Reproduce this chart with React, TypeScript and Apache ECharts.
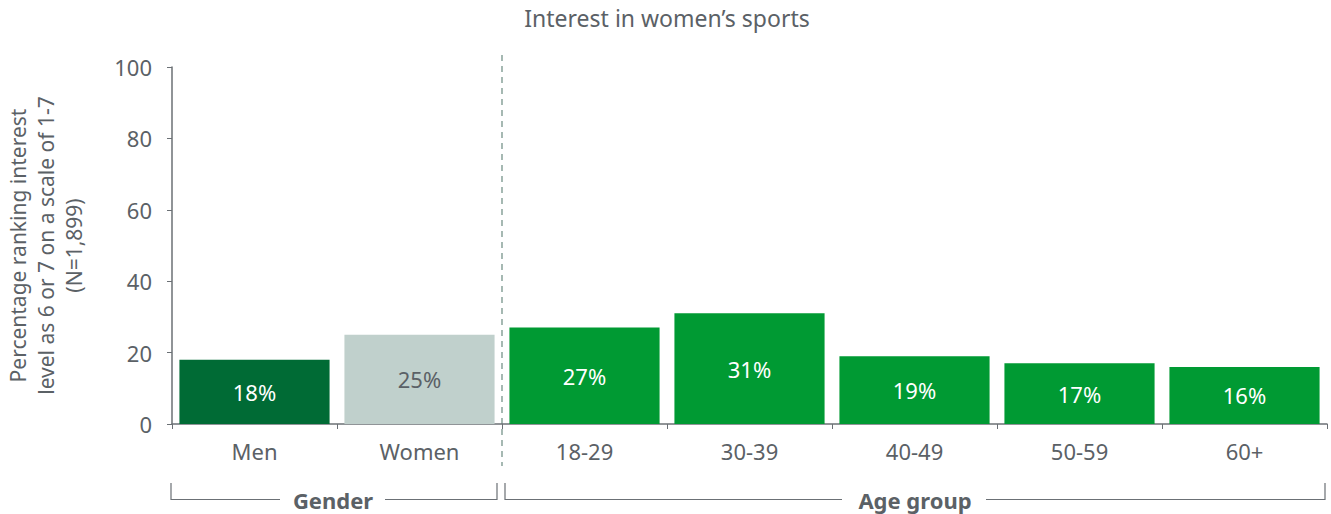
import React, { useEffect, useRef } from "react";
import * as echarts from "echarts";

const categories = ["Men", "Women", "18-29", "30-39", "40-49", "50-59", "60+"];
const values = [18, 25, 27, 31, 19, 17, 16];
const yTicks = [0, 20, 40, 60, 80, 100];
const groupLabels = ["Gender", "Age group"];

const FONT = "Noto Sans";
const TEXT = "#5b6166";
const AXIS = "#6b7075";
const barColors = ["#006b35", "#c0d0cc", "#009a33", "#009a33", "#009a33", "#009a33", "#009a33"];
const labelColors = ["#ffffff", "#5b6166", "#ffffff", "#ffffff", "#ffffff", "#ffffff", "#ffffff"];

export default function App() {
  const ref = useRef<HTMLDivElement>(null);
  useEffect(() => {
    if (!ref.current) return;
    const chart = echarts.init(ref.current, null, { renderer: "svg" });
    const lineStyle = { stroke: AXIS, lineWidth: 1.2, fill: "none" };
    chart.setOption({
      animation: false,
      textStyle: { fontFamily: FONT },
      title: {
        text: "Interest in women\u2019s sports",
        left: 662,
        textAlign: "center",
        top: 1,
        textStyle: { fontFamily: FONT, fontSize: 23, fontWeight: "normal", color: TEXT },
      },
      grid: { left: 172, right: 4, top: 67, bottom: 90, outerBoundsMode: "none", containLabel: false },
      xAxis: {
        type: "category",
        data: categories,
        axisLine: { lineStyle: { color: AXIS, width: 1.5 } },
        axisTick: { show: true, length: 5, lineStyle: { color: AXIS } },
        axisLabel: { fontFamily: FONT, fontSize: 22, color: TEXT, margin: 16 },
      },
      yAxis: {
        type: "value",
        min: 0,
        max: 100,
        interval: 20,
        axisLine: { show: true, lineStyle: { color: AXIS, width: 1.5 } },
        axisTick: { show: true, length: 5, lineStyle: { color: AXIS } },
        splitLine: { show: false },
        axisLabel: { fontFamily: FONT, fontSize: 22, color: TEXT, margin: 20,
          formatter: (v: number) => (yTicks.includes(v) ? String(v) : "") },
        name: "Percentage ranking interest\nlevel as 6 or 7 on a scale of 1-7\n(N=1,899)",
        nameLocation: "middle",
        nameGap: 84,
        nameTextStyle: { fontFamily: FONT, fontSize: 21, color: TEXT, lineHeight: 28 },
      },
      series: [
        {
          type: "bar",
          barCategoryGap: "9%",
          data: values.map((v, i) => ({
            value: v,
            itemStyle: { color: barColors[i] },
            label: { color: labelColors[i] },
          })),
          label: {
            show: true,
            position: "inside",
            fontFamily: FONT,
            fontSize: 22,
            formatter: "{c}%",
          },
        },
      ],
      graphic: [
        { type: "line", shape: { x1: 502, y1: 55, x2: 502, y2: 466 },
          style: { stroke: "#6b8a80", lineWidth: 1.2, lineDash: [6, 5] } },
        { type: "polyline", shape: { points: [[171, 483], [171, 499.5], [280, 499.5]] }, style: lineStyle },
        { type: "polyline", shape: { points: [[385, 499.5], [497, 499.5], [497, 483]] }, style: lineStyle },
        { type: "polyline", shape: { points: [[505, 483], [505, 499.5], [842, 499.5]] }, style: lineStyle },
        { type: "polyline", shape: { points: [[986, 499.5], [1325, 499.5], [1325, 483]] }, style: lineStyle },
        { type: "text", x: 333, y: 499.5,
          style: { text: groupLabels[0], fill: TEXT, font: `bold 22px '${FONT}'`, textAlign: "center", textVerticalAlign: "middle" } },
        { type: "text", x: 915, y: 499.5,
          style: { text: groupLabels[1], fill: TEXT, font: `bold 22px '${FONT}'`, textAlign: "center", textVerticalAlign: "middle" } },
      ],
    });
    return () => chart.dispose();
  }, []);
  return <div ref={ref} style={{ position: "absolute", left: 0, top: 0, width: 1331, height: 514 }} />;
}
